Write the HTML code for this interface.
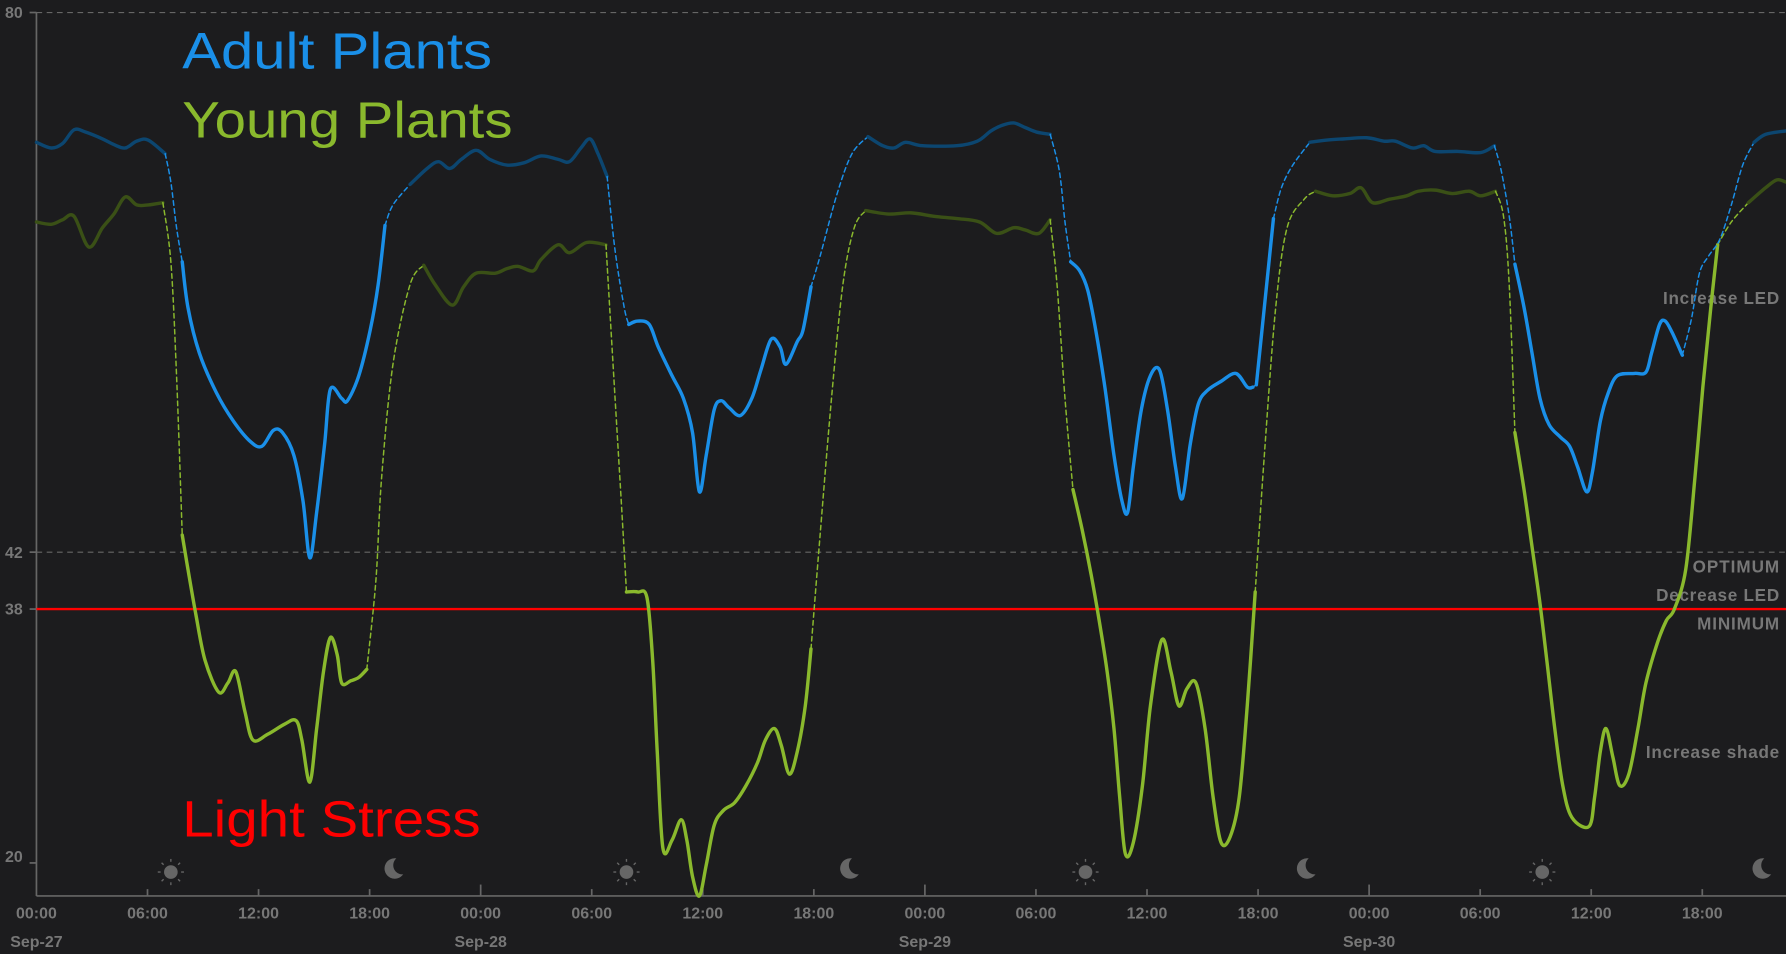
<!DOCTYPE html>
<html><head><meta charset="utf-8"><style>
html,body{margin:0;padding:0;background:#1c1c1e;}
svg{display:block}
</style></head><body>
<svg id="s" width="1786" height="954" viewBox="0 0 1568 838" preserveAspectRatio="none" xmlns="http://www.w3.org/2000/svg">
<rect width="1568" height="838" fill="#1c1c1e"/>
<g stroke="#666" stroke-width="1" stroke-dasharray="5,4">
<line x1="32" y1="11" x2="1568" y2="11"/>
<line x1="32" y1="485" x2="1568" y2="485"/>
</g>
<g stroke="#666" stroke-width="1.5">
<line x1="32" y1="11" x2="32" y2="787"/>
<line x1="32" y1="787" x2="1568" y2="787"/>
<line x1="26" y1="11" x2="32" y2="11"/><line x1="26" y1="485" x2="32" y2="485"/><line x1="26" y1="535" x2="32" y2="535"/><line x1="26" y1="758" x2="32" y2="758"/>
</g>
<g id="ticks" stroke="#666" stroke-width="1.5"></g>
<g font-family="Liberation Sans, sans-serif" font-weight="bold" font-size="14" fill="#777" text-anchor="end">
<text x="20" y="16">80</text><text x="20" y="490">42</text><text x="20" y="540">38</text><text x="20" y="757">20</text>
</g>
<g font-family="Liberation Sans, sans-serif" font-weight="bold" font-size="15" fill="#777" text-anchor="end">
<text x="1562" y="267" textLength="102">Increase LED</text>
<text x="1562" y="503" textLength="76">OPTIMUM</text>
<text x="1562" y="528" textLength="108">Decrease LED</text>
<text x="1562" y="553" textLength="72">MINIMUM</text>
<text x="1562" y="666" textLength="117">Increase shade</text>
</g>
<g id="xl" font-family="Liberation Sans, sans-serif" font-weight="bold" font-size="14" fill="#777" text-anchor="middle"></g>
<g id="icons" fill="#666" stroke="#666"></g>
<line x1="32" y1="535" x2="1568" y2="535" stroke="#f00" stroke-width="2"/>
<g id="series" fill="none" stroke-linejoin="round" stroke-linecap="round"></g>
<g font-family="Liberation Sans, sans-serif" font-size="45">
<text x="160" y="60" fill="#1a8fe8" textLength="272" lengthAdjust="spacingAndGlyphs">Adult Plants</text>
<text x="160" y="121" fill="#8ab92d" textLength="290" lengthAdjust="spacingAndGlyphs">Young Plants</text>
<text x="160" y="735" fill="#ff0000" textLength="262" lengthAdjust="spacingAndGlyphs">Light Stress</text>
</g>
</svg>
<script>
var NS="http://www.w3.org/2000/svg";
function el(p,t,a,txt){var e=document.createElementNS(NS,t);for(var k in a)e.setAttribute(k,a[k]);if(txt)e.textContent=txt;p.appendChild(e);return e;}
var tk=document.getElementById('ticks'),xl=document.getElementById('xl');
var labs=["00:00","06:00","12:00","18:00"],days=["Sep-27","Sep-28","Sep-29","Sep-30"];
for(var i=0;i<16;i++){var x=32+i*97.5;var big=i%4==0;
 if(i>0)el(tk,'line',{x1:x,y1:787,x2:x,y2:big?777:781});
 el(xl,'text',{x:x,y:807},labs[i%4]);
 if(big)el(xl,'text',{x:x,y:832},days[i/4]);}
var ic=document.getElementById('icons');
[150,550,953,1354].forEach(function(x){var y=766;el(ic,'circle',{cx:x,cy:y,r:6,stroke:'none'});
 for(var a=0;a<8;a++){var t=a*Math.PI/4;el(ic,'line',{x1:x+Math.cos(t)*9,y1:y+Math.sin(t)*9,x2:x+Math.cos(t)*11.5,y2:y+Math.sin(t)*11.5,'stroke-width':1.2});}});
[346,746,1147,1547].forEach(function(x){var y=763;
 el(ic,'path',{d:'M'+(x+2)+' '+(y-9)+' A9 9 0 1 0 '+(x+8)+' '+(y+5)+' A8 8 0 0 1 '+(x+2)+' '+(y-9)+'Z',stroke:'none'});});
function smooth(p){var d='M'+p[0][0]+' '+p[0][1];for(var i=0;i<p.length-1;i++){var p0=p[i-1]||p[i],p1=p[i],p2=p[i+1],p3=p[i+2]||p2;
 d+=' C'+(p1[0]+(p2[0]-p0[0])/6)+' '+(p1[1]+(p2[1]-p0[1])/6)+' '+(p2[0]-(p3[0]-p1[0])/6)+' '+(p2[1]-(p3[1]-p1[1])/6)+' '+p2[0]+' '+p2[1];}return d;}
var S=document.getElementById('series');
function seg(pts,type,col){var a={d:smooth(pts)};
 if(type=='dash'){a.stroke=col;a['stroke-width']=1.3;a['stroke-dasharray']='4,3';}
 else {a.stroke=col;a['stroke-width']=3;}
 el(S,'path',a);}
var B='#1a8fe8',BD='#0c4670',G='#8ab92d',GD='#3a5016';
seg([[32,195],[45,197],[55,193],[65,190],[78,217],[90,200],[100,188],[110,173],[120,180],[130,180],[143,178]],'night',GD);
seg([[143,178],[150,230],[155,330],[160,470]],'dash',G);
seg([[160,470],[165,500],[172,540],[180,580],[192,608],[200,600],[207,590],[215,625],[222,650],[235,645],[250,636],[260,633],[265,650],[272,687],[278,640],[284,590],[290,560],[296,575],[300,600],[308,598],[315,595],[322,588]],'day',G);
seg([[322,588],[330,510],[335,420],[345,320],[360,250],[372,233]],'dash',G);
seg([[372,233],[382,250],[397,268],[407,252],[418,240],[435,240],[445,236],[455,234],[468,238],[475,228],[490,215],[500,222],[515,213],[532,215]],'night',GD);
seg([[532,215],[540,350],[546,450],[550,520]],'dash',G);
seg([[550,520],[560,520],[568,525],[573,580],[577,660],[582,745],[590,738],[598,720],[603,738],[608,770],[614,787],[620,760],[627,725],[635,712],[645,705],[655,690],[665,670],[672,650],[680,640],[686,655],[693,680],[700,660],[707,620],[712,570]],'day',G);
seg([[712,570],[720,470],[730,350],[740,250],[750,200],[760,185]],'dash',G);
seg([[760,185],[780,188],[800,187],[820,190],[840,192],[860,195],[875,205],[890,200],[900,202],[912,205],[922,193]],'night',GD);
seg([[922,193],[928,250],[935,350],[942,430]],'dash',G);
seg([[942,430],[950,465],[958,505],[965,545],[972,590],[978,640],[983,700],[988,750],[995,740],[1003,690],[1010,620],[1020,562],[1028,590],[1035,620],[1042,605],[1050,600],[1058,640],[1065,700],[1072,740],[1080,735],[1088,700],[1095,620],[1102,520]],'day',G);
seg([[1102,520],[1110,400],[1120,270],[1130,200],[1145,175],[1155,168]],'dash',G);
seg([[1155,168],[1170,172],[1185,170],[1195,165],[1205,178],[1220,175],[1235,172],[1245,168],[1260,167],[1275,170],[1290,168],[1300,172],[1313,168]],'night',GD);
seg([[1313,168],[1320,190],[1325,250],[1330,380]],'dash',G);
seg([[1330,380],[1338,430],[1345,480],[1352,530],[1358,580],[1365,640],[1372,690],[1380,718],[1395,726],[1400,700],[1405,660],[1410,640],[1416,665],[1422,690],[1430,680],[1438,640],[1445,600],[1455,565],[1463,545],[1470,535],[1480,500],[1488,420],[1495,340],[1502,270],[1508,215]],'day',G);
seg([[1508,215],[1520,195],[1535,178]],'dash',G);
seg([[1535,178],[1550,165],[1560,158],[1568,160]],'night',GD);
seg([[32,125],[45,130],[55,126],[65,114],[75,116],[90,122],[100,127],[110,130],[120,124],[130,123],[145,135]],'night',BD);
seg([[145,135],[150,160],[155,200],[160,230]],'dash',B);
seg([[160,230],[165,270],[175,310],[190,345],[205,370],[220,388],[230,392],[240,378],[248,380],[258,400],[266,440],[272,490],[278,450],[285,390],[290,342],[300,350],[305,352],[315,330],[325,290],[332,250],[338,198]],'day',B);
seg([[338,198],[345,180],[360,162]],'dash',B);
seg([[360,162],[375,148],[385,142],[395,148],[405,140],[418,132],[430,140],[445,145],[460,143],[475,137],[490,140],[500,142],[510,130],[518,122],[525,135],[533,155]],'night',BD);
seg([[533,155],[540,220],[548,270],[552,285]],'dash',B);
seg([[552,285],[560,282],[570,285],[578,305],[590,330],[600,350],[608,380],[614,432],[620,400],[627,360],[633,352],[640,358],[650,365],[660,350],[668,325],[677,298],[685,305],[690,320],[700,300],[705,290],[712,252]],'day',B);
seg([[712,252],[720,225],[735,170],[748,135],[762,120]],'dash',B);
seg([[762,120],[775,128],[785,130],[795,125],[810,128],[840,128],[858,124],[870,115],[880,110],[890,108],[900,112],[910,116],[922,118]],'night',BD);
seg([[922,118],[930,150],[935,195],[940,230]],'dash',B);
seg([[940,230],[948,238],[955,255],[962,290],[970,340],[978,400],[985,440],[990,450],[995,410],[1002,360],[1010,330],[1018,325],[1025,360],[1032,410],[1038,438],[1045,390],[1052,355],[1060,343],[1072,335],[1085,328],[1095,340],[1100,340]],'day',B);
seg([[1100,340],[1103,338]],'dash',B);
seg([[1103,338],[1110,270],[1118,192]],'day',B);
seg([[1118,192],[1125,165],[1135,145],[1150,125]],'dash',B);
seg([[1150,125],[1165,123],[1180,122],[1200,121],[1215,124],[1225,124],[1240,130],[1250,128],[1260,133],[1280,133],[1300,134],[1312,128]],'night',BD);
seg([[1312,128],[1318,150],[1325,190],[1330,232]],'dash',B);
seg([[1330,232],[1338,270],[1345,310],[1352,350],[1360,373],[1370,384],[1378,392],[1385,410],[1393,432],[1398,415],[1405,370],[1412,345],[1420,330],[1435,328],[1445,327],[1450,310],[1457,285],[1462,282],[1468,292],[1477,312]],'day',B);
seg([[1477,312],[1485,280],[1492,240],[1500,225],[1510,210],[1520,180],[1530,145],[1540,125]],'dash',B);
seg([[1540,125],[1550,118],[1568,115]],'night',BD);
</script>
</body></html>
